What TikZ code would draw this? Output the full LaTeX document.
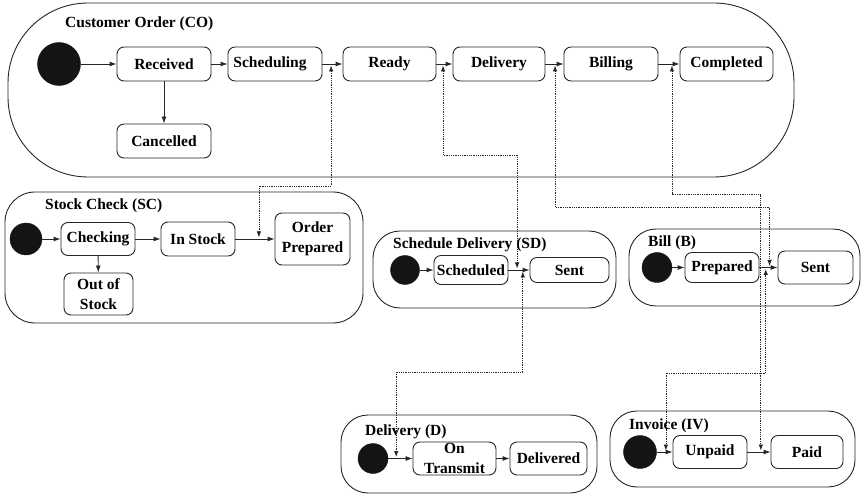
\documentclass[tikz,border=0pt]{standalone}
\usepackage{fontspec}
\setmainfont{Liberation Serif}
\usetikzlibrary{arrows.meta,calc}
\begin{document}
\begin{tikzpicture}[x=1pt,y=-1pt,
  every node/.style={font=\fontsize{15.5}{19.5}\selectfont\bfseries},
  state/.style={draw=black!85, line width=0.9pt, rounded corners=7pt, inner sep=0pt, align=center},
  costate/.style={state, minimum width=94pt, minimum height=34pt},
  superstate/.style={draw=black!85, line width=0.9pt, inner sep=0pt, rounded corners=27pt},
  initial/.style={circle, fill=black!92, draw=black!92, inner sep=0pt},
  caption/.style={anchor=base west, inner sep=0pt},
  trans/.style={draw=black!85, line width=0.9pt, -{Latex[length=7pt,width=5pt]}},
  link/.style={draw=black!85, line width=0.8pt, densely dotted,
    {Latex[length=6pt,width=4.5pt]}-{Latex[length=6pt,width=4.5pt]},
    shorten <=1.5pt, shorten >=1.5pt}
]
\useasboundingbox (0,0) rectangle (862,494);

% ---------- Customer Order ----------
\node[superstate, rounded corners=80pt, minimum width=786pt, minimum height=174pt] (CO) at (401,90) {};
\node[caption] (COcap) at (65,28) {Customer Order (CO)};
\node[initial, minimum size=43pt] (COi) at (59,64) {};
\node[costate] (rec) at (164,64) {Received};
\node[costate] (sch) at (275,64) {Scheduling\hspace*{10pt}};
\node[costate, minimum width=93pt] (rdy) at (389.5,64) {Ready};
\node[costate, minimum width=92pt] (dlv) at (499,64) {Delivery};
\node[costate] (bil) at (611,64) {Billing};
\node[costate, minimum width=93pt] (cmp) at (726.5,64) {Completed};
\node[costate] (can) at (164,141) {Cancelled};

% ---------- Stock Check ----------
\node[superstate, rounded corners=30pt, minimum width=358pt, minimum height=131pt] (SC) at (184,257.5) {};
\node[caption] (SCcap) at (45,210) {Stock Check (SC)};
\node[initial, minimum size=32pt] (SCi) at (26,239) {};
\node[state, minimum width=74pt, minimum height=33pt] (chk) at (98,239) {Checking};
\node[state, minimum width=74pt, minimum height=34pt] (ins) at (198,239) {In Stock};
\node[state, minimum width=75pt, minimum height=52pt] (opr) at (312.5,239) {Order\\Prepared};
\node[state, minimum width=69pt, minimum height=42pt] (oos) at (98.5,294) {Out of\\Stock};

% ---------- Schedule Delivery ----------
\node[superstate, minimum width=243pt, minimum height=77pt] (SD) at (494.5,269.5) {};
\node[caption] (SDcap) at (393,249) {Schedule Delivery (SD)};
\node[initial, minimum size=29pt] (SDi) at (405,270) {};
\node[state, minimum width=74pt, minimum height=29pt] (sdd) at (471,270) {Scheduled};
\node[state, minimum width=79pt, minimum height=25pt] (sds) at (569.5,270) {Sent};

% ---------- Bill ----------
\node[superstate, minimum width=231pt, minimum height=77pt] (B) at (744.5,267.5) {};
\node[caption] (Bcap) at (648,247) {Bill (B)};
\node[initial, minimum size=30pt] (Bi) at (657,267.5) {};
\node[state, minimum width=74pt, minimum height=30pt] (bp) at (722,267.5) {Prepared};
\node[state, minimum width=75pt, minimum height=33pt] (bs) at (815.5,267.5) {Sent};

% ---------- Delivery ----------
\node[superstate, minimum width=256pt, minimum height=78pt] (D) at (469,454) {};
\node[caption] (Dcap) at (365,435) {Delivery (D)};
\node[initial, minimum size=30pt] (Di) at (373,458.5) {};
\node[state, minimum width=83pt, minimum height=33pt] (dot) at (454.5,458.5) {On\\Transmit};
\node[state, minimum width=77pt, minimum height=33pt] (ddl) at (548.5,458.5) {Delivered};

% ---------- Invoice ----------
\node[superstate, minimum width=245pt, minimum height=76pt] (IV) at (732.5,449) {};
\node[caption] (IVcap) at (629,429) {Invoice (IV)};
\node[initial, minimum size=33pt] (IVi) at (640,452) {};
\node[state, minimum width=74pt, minimum height=33pt] (ivu) at (710,452) {Unpaid};
\node[state, minimum width=72pt, minimum height=33pt] (ivp) at (807,452) {Paid};

% ---------- transitions ----------
\draw[trans] (COi) -- (rec);
\draw[trans] (rec) -- (sch);
\draw[trans] (sch) -- (rdy);
\draw[trans] (rdy) -- (dlv);
\draw[trans] (dlv) -- (bil);
\draw[trans] (bil) -- (cmp);
\draw[trans] (rec) -- (can);

\draw[trans] (SCi) -- (chk);
\draw[trans] (chk) -- (ins);
\draw[trans] (ins) -- (opr);
\draw[trans] (chk) -- (oos);

\draw[trans] (SDi) -- (sdd);
\draw[trans] (sdd) -- (sds);

\draw[trans] (Bi) -- (bp);
\draw[trans] (bp) -- (bs);

\draw[trans] (Di) -- (dot);
\draw[trans] (dot) -- (ddl);

\draw[trans] (IVi) -- (ivu);
\draw[trans] (ivu) -- (ivp);

% ---------- synchronisation points on transitions ----------
\coordinate (l1a) at ($(sch.east)!0.43!(rdy.west)$);
\coordinate (l1b) at ($(ins.east)!0.6!(opr.west)$);
\coordinate (l2a) at ($(rdy.east)!0.41!(dlv.west)$);
\coordinate (l2b) at ($(sdd.east)!0.41!(sds.west)$);
\coordinate (l6a) at ($(sdd.east)!0.68!(sds.west)$);
\coordinate (l6b) at ($(Di.east)!0.33!(dot.west)$);
\coordinate (l3a) at ($(dlv.east)!0.53!(bil.west)$);
\coordinate (l3b) at ($(bp.east)!0.56!(bs.west)$);
\coordinate (l4a) at ($(bil.east)!0.64!(cmp.west)$);
\coordinate (l4b) at ($(ivu.east)!0.58!(ivp.west)$);
\coordinate (l5a) at ($(bp.east)!0.35!(bs.west)$);
\coordinate (l5b) at ($(IVi.east)!0.58!(ivu.west)$);

% heights of the horizontal runs
\coordinate (h1) at (0,186);
\coordinate (h2) at (0,155);
\coordinate (h3) at (0,207);
\coordinate (h4) at (0,194);
\coordinate (h5) at (0,373);
\coordinate (h6) at (0,372);

% ---------- dotted links ----------
\draw[link] (l1a) -- (l1a |- h1) -- (l1b |- h1) -- (l1b);
\draw[link] (l2a) -- (l2a |- h2) -- (l2b |- h2) -- (l2b);
\draw[link] (l6a) -- (l6a |- h6) -- (l6b |- h6) -- (l6b);
\draw[link] (l3a) -- (l3a |- h3) -- (l3b |- h3) -- (l3b);
\draw[link] (l4a) -- (l4a |- h4) -- (l4b |- h4) -- (l4b);
\draw[link] (l5a) -- (l5a |- h5) -- (l5b |- h5) -- (l5b);
\end{tikzpicture}
\end{document}
